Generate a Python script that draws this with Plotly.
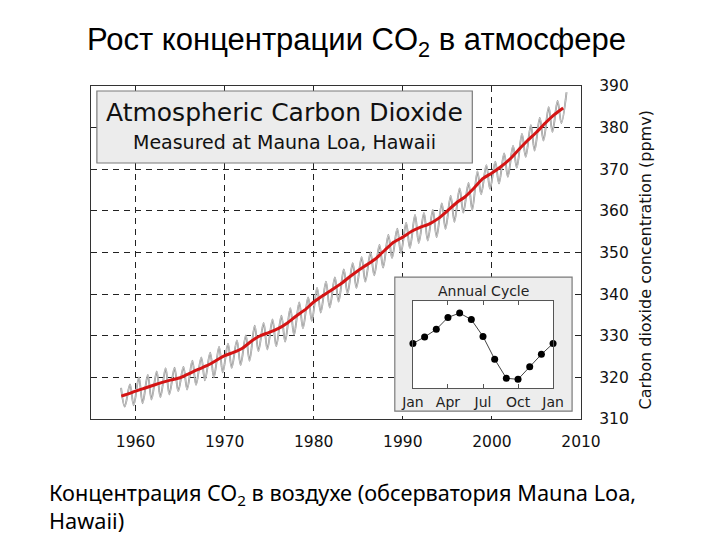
import plotly.graph_objects as go

# ---------------- data ----------------
# 12-month running mean (red), sampled at these decimal years
trend_years = [1958.4, 1959, 1960, 1961, 1962, 1963, 1964, 1965, 1966, 1967, 1968, 1969,
               1970, 1971, 1972, 1973, 1974, 1975, 1976, 1977, 1978, 1979, 1980, 1981,
               1982, 1983, 1984, 1985, 1986, 1987, 1988, 1989, 1990, 1991, 1992, 1993,
               1994, 1995, 1996, 1997, 1998, 1999, 2000, 2001, 2002, 2003, 2004, 2005,
               2006, 2007, 2008]
trend_ppm = [315.5, 315.9, 316.7, 317.4, 318.1, 318.8, 319.4, 319.9, 320.9, 321.9, 322.8, 324.0,
             325.2, 326.0, 327.0, 328.7, 330.0, 330.8, 331.7, 333.0, 334.7, 336.2, 338.1, 339.6,
             341.0, 342.4, 344.1, 345.7, 347.1, 348.6, 350.6, 352.5, 353.7, 355.1, 356.1, 356.9,
             358.2, 360.0, 361.9, 363.4, 365.5, 367.8, 369.1, 370.6, 372.4, 374.7, 376.9, 378.9,
             381.1, 383.1, 384.7]

# monthly record (grey): yearly spring maximum (May) and autumn minimum (Oct)
cycle_years = list(range(1958, 2009))
may_max_ppm = [317.5, 318.3, 320.0, 320.6, 321.4, 322.2, 322.3, 322.5, 324.0, 324.8,
               325.9, 327.3, 328.1, 328.9, 330.1, 332.4, 333.1, 333.9, 334.8, 336.6,
               338.0, 339.2, 341.5, 343.0, 344.0, 345.9, 347.4, 348.9, 350.0, 351.8,
               354.2, 355.7, 357.1, 359.0, 359.5, 360.2, 361.8, 363.6, 365.4, 366.7,
               369.5, 371.0, 371.8, 373.8, 375.6, 378.5, 380.6, 382.3, 384.9, 386.4,
               388.5]
oct_min_ppm = [313.0, 313.3, 313.8, 314.7, 315.2, 315.9, 316.7, 317.1, 318.2, 319.3,
               320.0, 321.2, 322.3, 323.0, 324.0, 326.3, 326.7, 327.5, 328.6, 330.2,
               331.8, 333.6, 335.6, 336.8, 338.2, 340.2, 341.5, 343.0, 344.5, 346.4,
               348.7, 349.9, 351.1, 352.3, 352.9, 353.7, 355.7, 357.4, 359.6, 360.2,
               364.0, 365.3, 366.6, 368.2, 370.4, 373.0, 374.5, 376.9, 379.0, 381.1]
max_month = 5
min_month = 10

# inset: mean annual cycle (ppm deviation), Jan .. Jan
cycle_month_idx = [0, 1, 2, 3, 4, 5, 6, 7, 8, 9, 10, 11, 12]
cycle_dev_ppm = [0.1, 0.7, 1.4, 2.5, 2.9, 2.3, 0.75, -1.35, -3.1, -3.2, -2.05, -0.9, 0.1]
cycle_tick_vals = [0, 3, 6, 9, 12]
cycle_tick_text = ["Jan", "Apr", "Jul", "Oct", "Jan"]

x_ticks = [1960, 1970, 1980, 1990, 2000, 2010]
y_ticks = [310, 320, 330, 340, 350, 360, 370, 380, 390]

# build grey monthly trace (interleave maxima and minima)
grey_x, grey_y = [], []
for i, yr in enumerate(cycle_years):
    grey_x.append(yr + (max_month - 0.5) / 12)
    grey_y.append(may_max_ppm[i])
    if i < len(oct_min_ppm):
        grey_x.append(yr + (min_month - 0.5) / 12)
        grey_y.append(oct_min_ppm[i])

FONT = "DejaVu Sans"
fig = go.Figure()

fig.add_trace(go.Scatter(x=grey_x, y=grey_y, mode="lines",
                         line=dict(color="#939393", width=1.9, shape="spline", smoothing=1.0),
                         hoverinfo="skip", showlegend=False))
fig.add_trace(go.Scatter(x=grey_x, y=grey_y, mode="lines",
                         line=dict(color="#dcdcdc", width=0.7, shape="spline", smoothing=1.0),
                         hoverinfo="skip", showlegend=False))
fig.add_trace(go.Scatter(x=trend_years, y=trend_ppm, mode="lines",
                         line=dict(color="#d41414", width=3, shape="spline", smoothing=0.6),
                         showlegend=False))

# inset
fig.add_trace(go.Scatter(x=cycle_month_idx, y=cycle_dev_ppm, mode="lines+markers",
                         xaxis="x2", yaxis="y2",
                         line=dict(color="#444444", width=1),
                         marker=dict(color="black", size=7),
                         showlegend=False, cliponaxis=False))

# page body has an 8px margin: plot area placed at page x 91-581, y 86-419
fig.update_layout(
    width=720, height=540,
    margin=dict(l=83, r=147, t=78, b=129, autoexpand=False),
    paper_bgcolor="white", plot_bgcolor="white",
    font=dict(family=FONT, color="#111"),
    xaxis=dict(range=[1955, 2010], tickvals=x_ticks, showgrid=True,
               gridcolor="#222", gridwidth=1, griddash="6px,5px",
               showline=True, mirror=True, linecolor="#333", linewidth=1.2,
               ticks="", tickfont=dict(size=15.5, family=FONT, color="#111"),
               ticklabelstandoff=8, zeroline=False, automargin=False),
    yaxis=dict(range=[310, 390], tickvals=y_ticks, side="right", showgrid=True,
               gridcolor="#222", gridwidth=1, griddash="6px,5px",
               showline=True, mirror=True, linecolor="#333", linewidth=1.2,
               ticks="", tickfont=dict(size=15.5, family=FONT, color="#111"),
               ticklabelstandoff=14, zeroline=False, automargin=False),
    xaxis2=dict(domain=[0.657, 0.943], anchor="y2", range=[0, 12],
                tickvals=cycle_tick_vals, ticktext=cycle_tick_text,
                showgrid=False, zeroline=False, showline=True, mirror="ticks",
                linecolor="#555", linewidth=1, ticks="inside", ticklen=4, tickcolor="#555",
                tickfont=dict(size=14, family=FONT, color="#222"), ticklabelstandoff=1,
                automargin=False),
    yaxis2=dict(domain=[0.093, 0.354], anchor="x2", range=[-4, 4],
                showgrid=False, zeroline=False, showline=True, mirror=True,
                linecolor="#555", linewidth=1, showticklabels=False, ticks="",
                automargin=False),
)

shapes = [
    # title box (in main-axis units)
    dict(type="rect", xref="x", yref="y", x0=1955.66, x1=1997.8, y0=371.5, y1=388.8,
         fillcolor="#ececec", line=dict(color="#7a7a7a", width=1.2), layer="between"),
    # inset frame box
    dict(type="rect", xref="x", yref="y", x0=1989.1, x1=2009.0, y0=311.9, y1=344.1,
         fillcolor="#ededed", line=dict(color="#7a7a7a", width=1.2), layer="between"),
]
fig.update_layout(shapes=shapes)

def note(text, x, y, size, family=FONT, **kw):
    d = dict(text=text, x=x, y=y, xref="paper", yref="paper", showarrow=False,
             xanchor="center", yanchor="middle",
             font=dict(size=size, family=family, color=kw.pop("color", "#111")))
    d.update(kw)
    return d

annotations = [
    note("Atmospheric Carbon Dioxide", 0.394, 0.920, 25),
    note("Measured at Mauna Loa, Hawaii", 0.394, 0.832, 19),
    note("Annual Cycle", 0.800, 0.385, 14, color="#222"),
    note("Carbon dioxide concentration (ppmv)", 1.1306, 0.479, 16, textangle=-90),
    note("Рост концентрации CO<sub>2</sub> в атмосфере", 0.541, 1.132, 31,
         family="Liberation Sans", color="black"),
    note("Концентрация CO<sub>2</sub> в воздухе (обсерватория Mauna Loa,<br>Hawaii)",
         -0.0898, -0.172, 21.7, family="Noto Sans", color="black",
         xanchor="left", yanchor="top", align="left"),
]
fig.update_layout(annotations=annotations)

fig.write_html("out.html")
